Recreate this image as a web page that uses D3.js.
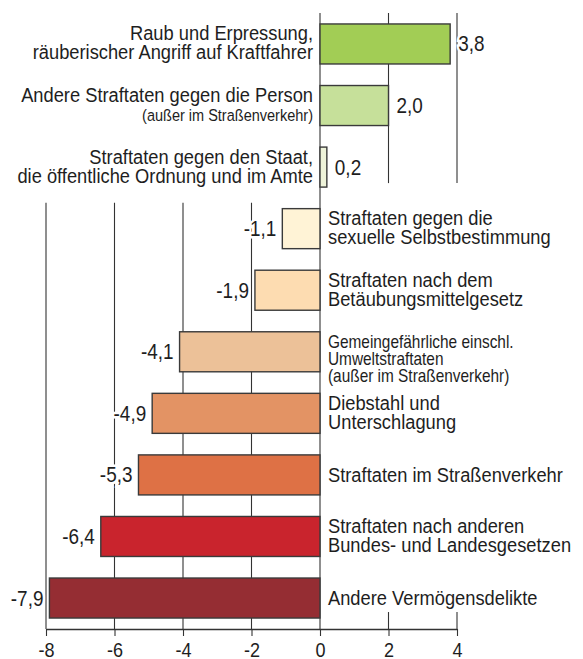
<!DOCTYPE html>
<html>
<head>
<meta charset="utf-8">
<script src="https://cdn.jsdelivr.net/npm/d3@7"></script>
<style>
    body { margin: 0; background: #fff; }
    svg text { font-family: "Liberation Sans", Arial, sans-serif; fill: #1e1e1e; }
</style>
</head>
<body>
<div id="wrapper"></div>
<script>
const categories = [
    "Raub und Erpressung",
    "Andere Straftaten gegen die Person",
    "Straftaten gegen den Staat",
    "Sexuelle Selbstbestimmung",
    "Betäubungsmittelgesetz",
    "Gemeingefährliche Straftaten",
    "Diebstahl und Unterschlagung",
    "Straßenverkehr",
    "Andere Bundes- und Landesgesetze",
    "Andere Vermögensdelikte"
]
const labelLines = [
    ["Raub und Erpressung,", "räuberischer Angriff auf Kraftfahrer"],
    ["Andere Straftaten gegen die Person"],
    ["Straftaten gegen den Staat,", "die öffentliche Ordnung und im Amte"],
    ["Straftaten gegen die", "sexuelle Selbstbestimmung"],
    ["Straftaten nach dem", "Betäubungsmittelgesetz"],
    ["Gemeingefährliche einschl.", "Umweltstraftaten"],
    ["Diebstahl und", "Unterschlagung"],
    ["Straftaten im Straßenverkehr"],
    ["Straftaten nach anderen", "Bundes- und Landesgesetzen"],
    ["Andere Vermögensdelikte"]
]
const labelNotes = ["", "(außer im Straßenverkehr)", "", "", "", "(außer im Straßenverkehr)", "", "", "", ""]
const values = [3.8, 2.0, 0.2, -1.1, -1.9, -4.1, -4.9, -5.3, -6.4, -7.9]
const barColors = ["#a2cd55", "#c6e09a", "#eef3d9", "#fff3d6", "#fddcb1", "#ecc198", "#e39364", "#de7145", "#c9242d", "#952d33"]
const tickValues = [-8, -6, -4, -2, 0, 2, 4]

const data = categories.map((c, i) => ({
    category: c, lines: labelLines[i], note: labelNotes[i], value: values[i], color: barColors[i]
}))

const width = 583
const height = 659
const squeeze = 0.88   // condensed look from a regular sans

const x = d3.scaleLinear().domain([-8, 4]).range([46, 457])
const y = d3.scaleBand().domain(categories).range([13, 629]).paddingInner(0.35).paddingOuter(0.178)
const bw = y.bandwidth()

const locale = d3.formatLocale({decimal: ",", thousands: ".", grouping: [3], currency: ["", "€"], minus: "-"})
const fmt = locale.format(".1f")

const svg = d3.select('#wrapper').append('svg')
    .attr('width', width)
    .attr('height', height)

const axisY = y.range()[1]
const topY = y.range()[0]
const negStart = values.findIndex(v => v < 0)
const firstNeg = categories[negStart]
const lastPos = categories[negStart - 1]
const lastCat = categories[categories.length - 1]

// grid lines, interrupted where the category labels sit
const grid = svg.append('g').attr('stroke', '#333').attr('stroke-width', 1.1)
tickValues.forEach(t => {
    let segs
    if (t < 0) segs = [[y(firstNeg) - 6, axisY]]
    else if (t === 0) segs = [[topY, axisY]]
    else segs = [[topY, y(lastPos) + bw - 4], [y(lastCat) + bw - 6, axisY]]
    segs.forEach(([a, b]) => {
        grid.append('line')
            .attr('x1', x(t)).attr('x2', x(t))
            .attr('y1', a).attr('y2', b)
    })
})

svg.append('g').selectAll('rect')
    .data(data)
    .join('rect')
    .attr('x', d => x(Math.min(0, d.value)))
    .attr('y', d => y(d.category))
    .attr('width', d => Math.abs(x(d.value) - x(0)))
    .attr('height', bw)
    .attr('fill', d => d.color)
    .attr('stroke', '#3a3a3a')
    .attr('stroke-width', 1.4)

// value labels
svg.append('g').selectAll('text')
    .data(data)
    .join('text')
    .attr('transform', d => `translate(${d.value >= 0 ? x(d.value) + 8 : x(d.value) - 6}, ${y(d.category) + bw / 2 + 7.5}) scale(${squeeze}, 1)`)
    .attr('text-anchor', d => d.value >= 0 ? 'start' : 'end')
    .style('font-size', '21.5px')
    .attr('stroke', '#fff')
    .attr('stroke-width', 5)
    .attr('paint-order', 'stroke')
    .text(d => fmt(d.value))

// category labels
const labels = svg.append('g')
data.forEach(d => {
    const pos = d.value >= 0
    const lx = pos ? x(0) - 7 : x(0) + 8
    const cy = y(d.category) + bw / 2
    const compact = d.lines.length + (d.note ? 1 : 0) >= 3
    const size = compact ? 17.5 : 20.8
    const lh = compact ? 17 : 19
    const b = (d.lines.length === 1 && !d.note) ? cy + 7.3 : cy - 3.5
    const t = labels.append('text')
        .attr('transform', `translate(${lx}, 0) scale(${squeeze}, 1)`)
        .attr('text-anchor', pos ? 'end' : 'start')
        .style('font-size', `${size}px`)
    d.lines.forEach((line, i) => {
        t.append('tspan').attr('x', 0).attr('y', b + i * lh).text(line)
    })
    if (d.note) {
        t.append('tspan')
            .attr('x', 0)
            .attr('y', b + d.lines.length * lh)
            .style('font-size', compact ? `${size}px` : '16.5px')
            .text(d.note)
    }
})

const axis = svg.append('g')
    .attr('transform', `translate(0, ${axisY})`)
    .call(d3.axisBottom(x).tickValues(tickValues).tickSize(7).tickSizeOuter(0).tickPadding(6).tickFormat(locale.format("d")))
axis.select('.domain').attr('stroke', '#333').attr('stroke-width', 1.4)
axis.selectAll('.tick line').attr('stroke', '#333').attr('stroke-width', 1.1)
axis.selectAll('.tick text')
    .attr('fill', '#1e1e1e')
    .attr('transform', `scale(${squeeze}, 1)`)
    .style('font-size', '20.5px')
    .style('font-family', '"Liberation Sans", Arial, sans-serif')
</script>
</body>
</html>
